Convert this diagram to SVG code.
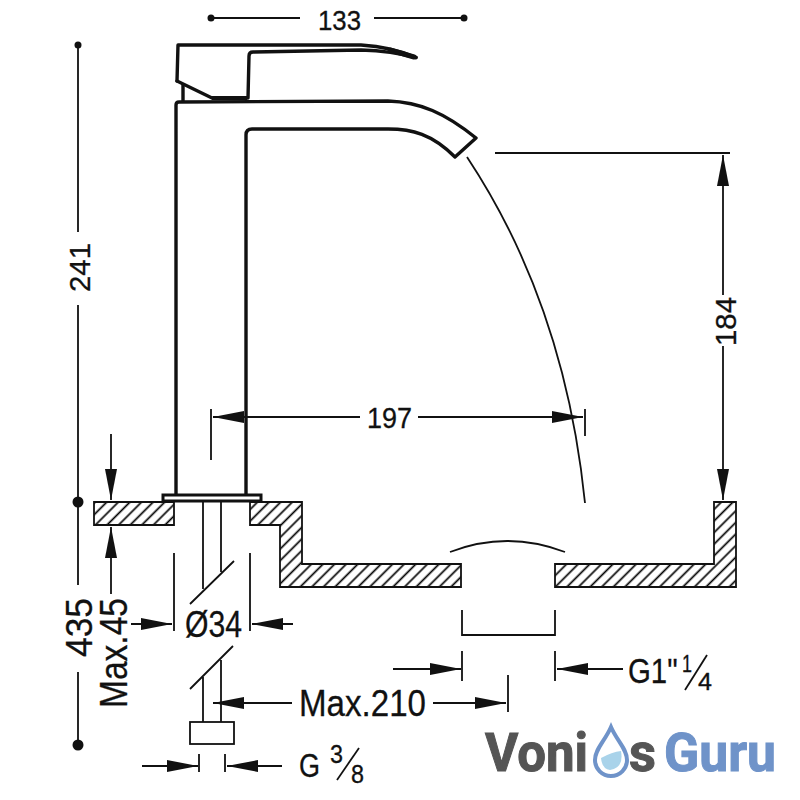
<svg xmlns="http://www.w3.org/2000/svg" width="800" height="800" viewBox="0 0 800 800">
<style>
.t{font-family:"Liberation Sans",Arial,sans-serif;fill:#111;stroke:#111;stroke-width:.3}
.d{fill:none;stroke:#111;stroke-width:1.8}
.b{fill:none;stroke:#111;stroke-width:3.4;stroke-linejoin:round;stroke-linecap:round}
.h{fill:url(#hatch);stroke:#111;stroke-width:1.8}
.l{font-family:Roboto,"Open Sans",sans-serif;font-weight:700;font-size:54px;stroke-width:1}
</style>
<defs>
<pattern id="hatch" width="8.2" height="8.2" patternUnits="userSpaceOnUse" patternTransform="rotate(45)"><rect width="8.2" height="8.2" fill="#fff"/><line x1="4.1" y1="0" x2="4.1" y2="8.2" stroke="#000" stroke-width="1.7"/></pattern>
<marker id="a" markerUnits="userSpaceOnUse" markerWidth="32" markerHeight="13" refX="31" refY="6.500" orient="auto-start-reverse"><path d="M0 .5 L31 6.500 L0 12.500Z" fill="#111"/></marker>
</defs>
<rect width="800" height="800" fill="#fff"/>
<g id="faucet">
<path class="b" d="M177 81 L178 45 L361 45 Q392 47 416 57.500"/>
<path class="b" d="M177 81 L212 98 L248 98 L249 56 Q249 52 253 52 L361 50 Q392 51 416 57.500"/>
<path d="M212 98 H247" stroke="#111" stroke-width="4"/>
<path d="M414 57 L390 50" stroke="#111" stroke-width="5" stroke-linecap="round"/>
<path class="b" d="M183 85 V101" stroke-width="2.4"/>
<path class="b" d="M176 495 V105 Q176 102 179 102 L388 101 C420 102 445 113 476 138 L455 157 C432 134 412 129 388 129 L252 129 Q246 129 246 135 V495"/>
<rect x="163" y="495" width="98" height="6" fill="#fff" stroke="#111" stroke-width="3"/>
</g>
<g id="counter">
<path class="h" d="M94 502 H174 V525 H94Z"/>
<path class="h" d="M250 502 H302 V564 H461 V587 H280 V525 H250Z"/>
<path class="h" d="M555 564 H714 V502 H736 V587 H555Z"/>
</g>
<g id="plumbing">
<path class="d" d="M203 502 V589 M221 502 V572 M190 604 L234 561 M190 689 L233 646 M203 677 V722 M221 660 V722"/>
<rect x="190" y="722" width="44" height="22" fill="#fff" stroke="#111" stroke-width="1.800"/>
<path class="d" d="M450 552 Q507 530 565 552"/>
<path class="d" d="M462 610 V635 H555 V610"/>
<path class="d" d="M467 157 Q565 305 585 503"/>
</g>
<g id="connectors">
<path class="d" d="M211 18 H300 M374 18 H464"/>
<circle cx="211" cy="18" r="3.500" fill="#111"/><circle cx="464" cy="18" r="3.500" fill="#111"/>
<path class="d" d="M78 45 V232 M78 305 V585 M78 672 V745"/>
<circle cx="78" cy="45" r="3.500" fill="#111"/><circle cx="78" cy="502" r="5.500" fill="#111"/><circle cx="78" cy="745" r="5.500" fill="#111"/>
<path class="d" d="M495 153 H730"/>
<path class="d" d="M723 295 V155" marker-end="url(#a)"/>
<path class="d" d="M723 346 V500" marker-end="url(#a)"/>
<path class="d" d="M211 409 V460 M585 409 V436"/>
<path class="d" d="M360 417 H213" marker-end="url(#a)"/>
<path class="d" d="M418 417 H583" marker-end="url(#a)"/>
<path class="d" d="M111 434 V500" marker-end="url(#a)"/>
<path class="d" d="M111 594 V527" marker-end="url(#a)"/>
<path class="d" d="M174 553 V631 M250 553 V631"/>
<path class="d" d="M131 624 H172" marker-end="url(#a)"/>
<path class="d" d="M293 624 H252" marker-end="url(#a)"/>
<path class="d" d="M292 703 H213" marker-end="url(#a)"/>
<path class="d" d="M433 703 H506" marker-end="url(#a)"/>
<path class="d" d="M508 675 V712"/>
<path class="d" d="M142 766 H198" marker-end="url(#a)"/>
<path class="d" d="M282 766 H227" marker-end="url(#a)"/>
<path class="d" d="M199 754 V772 M225 754 V772"/>
<path class="d" d="M393 669 H461" marker-end="url(#a)"/>
<path class="d" d="M623 669 H557" marker-end="url(#a)"/>
<path class="d" d="M462 651 V681 M555 651 V681"/>
</g>
<g id="labels">
<text class="t" x="318" y="30" font-size="28" textLength="43" lengthAdjust="spacingAndGlyphs">133</text>
<text class="t" transform="translate(90 292) rotate(-90)" font-size="30" textLength="49" lengthAdjust="spacingAndGlyphs">241</text>
<text class="t" transform="translate(736 346) rotate(-90)" font-size="30" textLength="49" lengthAdjust="spacingAndGlyphs">184</text>
<text class="t" x="367" y="428" font-size="29" textLength="45" lengthAdjust="spacingAndGlyphs">197</text>
<text class="t" transform="translate(92 657) rotate(-90)" font-size="37" textLength="59" lengthAdjust="spacingAndGlyphs">435</text>
<text class="t" transform="translate(127 708) rotate(-90)" font-size="38" textLength="110" lengthAdjust="spacingAndGlyphs">Max.45</text>
<text class="t" x="185" y="637" font-size="37" textLength="57" lengthAdjust="spacingAndGlyphs">Ø34</text>
<text class="t" x="299" y="716" font-size="37" textLength="127" lengthAdjust="spacingAndGlyphs">Max.210</text>
<text class="t" x="299" y="777" font-size="33" textLength="21" lengthAdjust="spacingAndGlyphs">G</text>
<text class="t" x="330" y="763" font-size="25" textLength="13" lengthAdjust="spacingAndGlyphs">3</text>
<text class="t" x="351" y="783" font-size="25" textLength="13" lengthAdjust="spacingAndGlyphs">8</text>
<path class="d" d="M337 780 L359 748" stroke-width="2"/>
<text class="t" transform="translate(628 683) scale(.84 1)" font-size="35">G1"</text>
<text class="t" x="682" y="672" font-size="24" textLength="10" lengthAdjust="spacingAndGlyphs">1</text>
<text class="t" x="698" y="690" font-size="24" textLength="14" lengthAdjust="spacingAndGlyphs">4</text>
<path class="d" d="M685 690 L707 655" stroke-width="2"/>
</g>
<g id="logo">
<text class="l" x="485" y="771" fill="#555" stroke="#555" textLength="103" lengthAdjust="spacingAndGlyphs">Voni</text>
<text class="l" x="629" y="771" fill="#555" stroke="#555" textLength="27" lengthAdjust="spacingAndGlyphs">s</text>
<text class="l" x="664" y="771" fill="#6f93c9" stroke="#6f93c9" textLength="112" lengthAdjust="spacingAndGlyphs">Guru</text>
<path d="M611 727 C605 741 595 749 595 760 A16 16 0 0 0 627 760 C627 749 617 741 611 727Z" fill="#fff" stroke="#6f93c9" stroke-width="4"/>
<path d="M601 758 Q612 752 621 751 Q624 768 610 770 Q602 769 601 758Z" fill="#a9d3ea"/>
</g>
</svg>
